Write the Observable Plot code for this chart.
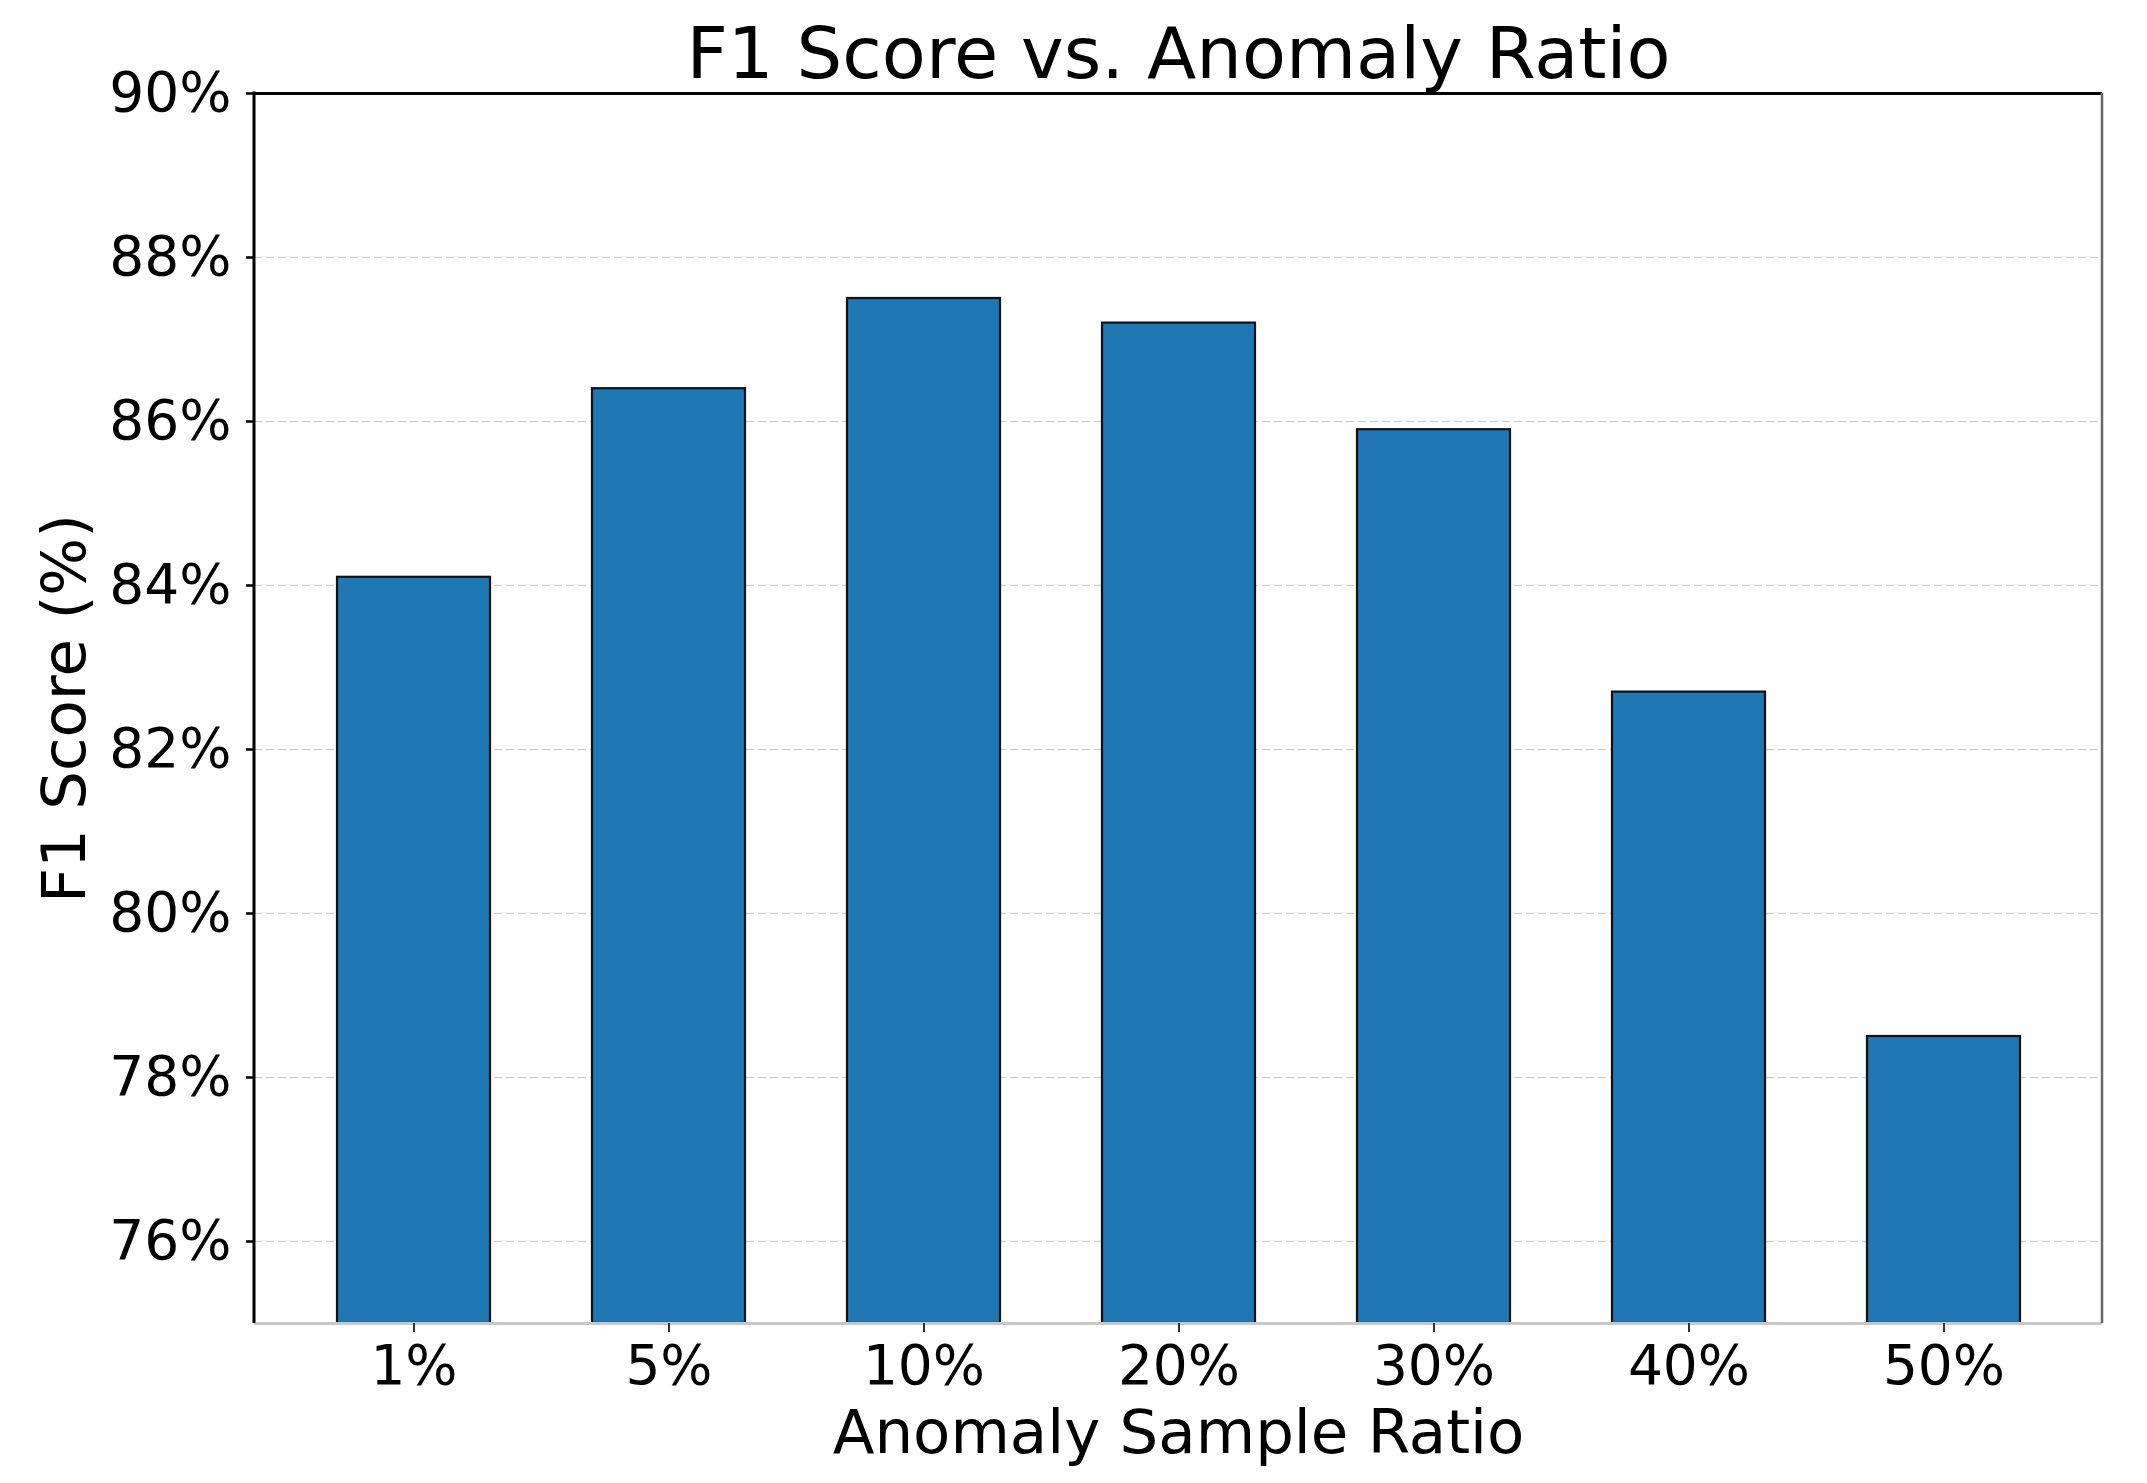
<!DOCTYPE html>
<html>
<head>
<meta charset="utf-8">
<script src="https://cdn.jsdelivr.net/npm/d3@7"></script>
<script src="https://cdn.jsdelivr.net/npm/@observablehq/plot@0.6"></script>
<style>
  html, body { margin: 0; padding: 0; background: white; }
</style>
</head>
<body>
<div id="chart"></div>
<script>
const ratios = ["1%", "5%", "10%", "20%", "30%", "40%", "50%"];
const f1Scores = [84.1, 86.4, 87.5, 87.2, 85.9, 82.7, 78.5];
const yTicks = [76, 78, 80, 82, 84, 86, 88, 90];
const titleText = "F1 Score vs. Anomaly Ratio";
const xLabel = "Anomaly Sample Ratio";
const yLabel = "F1 Score (%)";

const data = ratios.map((r, i) => ({ ratio: r, f1: f1Scores[i] }));

const W = 2147, H = 1483;
const mL = 254, mR = 45, mT = 93, mB = 160;

const chart = Plot.plot({
  width: W,
  height: H,
  marginLeft: mL,
  marginRight: mR,
  marginTop: mT,
  marginBottom: mB,
  style: { fontFamily: "DejaVu Sans", background: "white", color: "black" },
  x: { type: "band", domain: ratios, paddingInner: 0.4, paddingOuter: 0.3235, align: 0.5 },
  y: { domain: [75, 90] },
  marks: [
    Plot.gridY(yTicks.filter(d => d < 90), { stroke: "#d2d2d2", strokeOpacity: 1, strokeWidth: 1.6, strokeDasharray: "8,4" }),
    Plot.barY(data, { x: "ratio", y1: 75, y2: "f1", fill: "#1f77b4", stroke: "#111", strokeWidth: 2.2 }),
    Plot.ruleY([75], { stroke: "#c8c8c8", strokeWidth: 3 }),
    Plot.ruleY([90], { stroke: "black", strokeWidth: 3 }),
    Plot.axisY({ ticks: yTicks, tickFormat: d => d + "%", tickSize: 8, tickPadding: 15, fontSize: 55, label: null, stroke: "black", strokeWidth: 2.5 }),
    Plot.axisX({ tickSize: 9, tickPadding: 12, fontSize: 55, label: null, stroke: "#333", strokeWidth: 2 }),
    Plot.text([titleText], { frameAnchor: "top", dy: -39, fontSize: 72, lineAnchor: "middle", textAnchor: "middle", fill: "black" }),
    Plot.text([xLabel], { frameAnchor: "bottom", dy: 110, fontSize: 61, lineAnchor: "middle", textAnchor: "middle", fill: "black" }),
    Plot.text([yLabel], { frameAnchor: "left", dx: -189, rotate: -90, fontSize: 61, lineAnchor: "middle", textAnchor: "middle", fill: "black" })
  ]
});

// left and right spines of the frame
const svg = d3.select(chart);
svg.append("line")
  .attr("x1", W - mR).attr("x2", W - mR).attr("y1", mT).attr("y2", H - mB)
  .attr("stroke", "#666").attr("stroke-width", 2.5);
svg.append("line")
  .attr("x1", mL).attr("x2", mL).attr("y1", mT - 1.5).attr("y2", H - mB)
  .attr("stroke", "black").attr("stroke-width", 3);

document.getElementById("chart").appendChild(chart);
</script>
</body>
</html>
